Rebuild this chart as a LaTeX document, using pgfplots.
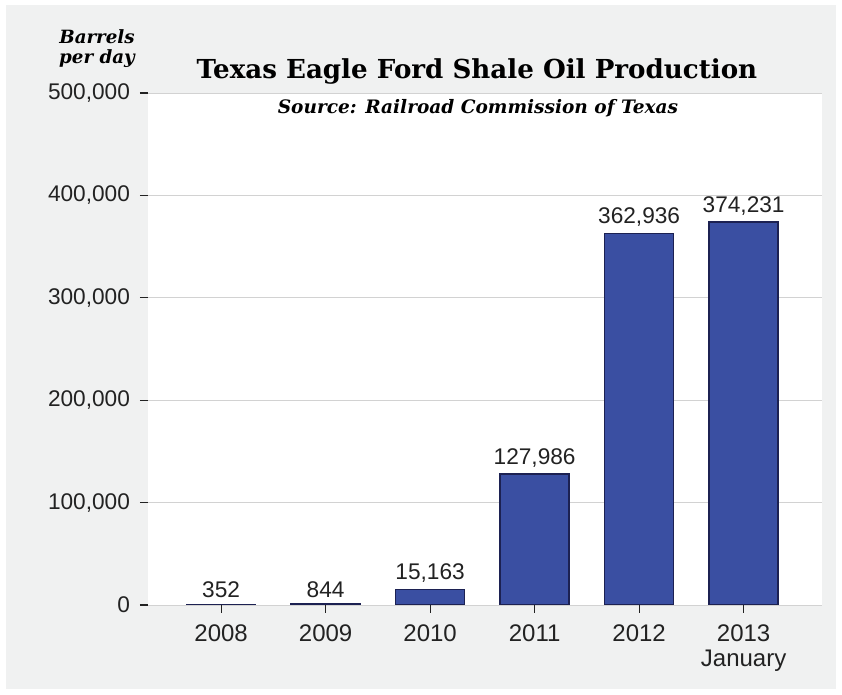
\documentclass[border=0pt]{standalone}
\usepackage{fontspec}
\setmainfont{Liberation Sans}
\newfontfamily\titlefont{DejaVu Serif}
\usepackage{pgfplots}
\pgfplotsset{compat=1.18}
\definecolor{bgray}{HTML}{F0F1F1}
\definecolor{barblue}{HTML}{3A4FA2}
\definecolor{bardark}{HTML}{1C2152}
\definecolor{txt}{HTML}{222222}
\begin{document}
\begin{tikzpicture}[x=1pt,y=1pt]
% page frame and grey panel (1px = 0.75pt, axis box lower left at px (148,605))
\fill[white] (-111,-67.5) rectangle (520.5,453.75);
\fill[bgray] (-106.5,-63) rectangle (516,450);
\begin{axis}[
    at={(0,0)}, anchor=south west,
    scale only axis,
    width=505.5pt, height=384pt,
    axis background/.style={fill=white},
    axis line style={draw=none},
    ybar, bar width=51.75pt, bar shift=0pt,
    xmin=-0.7, xmax=5.75,
    ymin=0, ymax=500000,
    xtick=data,
    xticklabels={2008,2009,2010,2011,2012,{2013\\January}},
    xticklabel style={align=center, font=\fontsize{18}{19}\selectfont, text=txt, yshift=-5pt},
    ytick={0,100000,200000,300000,400000,500000},
    yticklabel style={font=\fontsize{17}{18}\selectfont, text=txt, xshift=-4pt},
    scaled y ticks=false,
    /pgf/number format/.cd, fixed, precision=0, 1000 sep={,}, assume math mode=true,
    /pgfplots/.cd,
    tick align=outside, major tick length=6pt,
    xtick pos=bottom, ytick pos=left,
    tick style={txt, line width=0.8pt},
    ymajorgrids, major grid style={gray!35, line width=0.6pt},
    nodes near coords,
    every node near coord/.append style={font=\fontsize{17}{18}\selectfont, text=txt, yshift=1pt},
]
\addplot[fill=barblue, draw=bardark, line width=1.2pt] coordinates {
    (0,352) (1,844) (2,15163) (3,127986) (4,362936) (5,374231)};
\end{axis}
\node[font=\titlefont\bfseries\fontsize{19.6}{23}\selectfont, text=black] at (246.75,400.5) {Texas Eagle Ford Shale Oil Production};
\node[font=\titlefont\bfseries\itshape\fontsize{13.9}{16}\selectfont, text=black] at (247.5,372.75) {Source: Railroad Commission of Texas};
\node[font=\titlefont\bfseries\itshape\fontsize{13.7}{15}\selectfont, text=black, align=center] at (-38.25,417.5) {Barrels\\per day};
\end{tikzpicture}
\end{document}
